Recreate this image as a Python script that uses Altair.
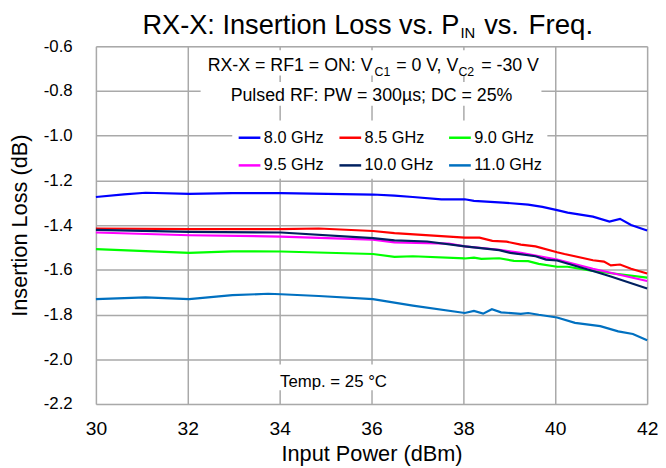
import altair as alt
import pandas as pd

FONT = "Liberation Sans"

series_names = ["8.0 GHz", "8.5 GHz", "9.0 GHz", "9.5 GHz", "10.0 GHz", "11.0 GHz"]
series_colors = ["#0000ff", "#ff0000", "#00ff00", "#ff00ff", "#002060", "#0070c0"]

x_ticks = [30, 32, 34, 36, 38, 40, 42]
y_ticks = [-2.2, -2.0, -1.8, -1.6, -1.4, -1.2, -1.0, -0.8, -0.6]

pin_80 = [30.0, 30.61, 31.08, 32.03, 32.97, 34.03, 36.03, 36.5, 36.9, 37.52, 38.03, 38.23,
          38.86, 39.41, 39.72, 40.04, 40.27, 40.82, 41.18, 41.41, 41.65, 42.0]
il_80 = [-1.274, -1.262, -1.255, -1.260, -1.257, -1.257, -1.263, -1.268, -1.274, -1.285, -1.284, -1.291,
         -1.299, -1.308, -1.318, -1.333, -1.344, -1.362, -1.384, -1.372, -1.399, -1.424]

pin_85 = [30.0, 32.03, 34.03, 34.85, 36.03, 36.5, 38.03, 38.35, 38.63, 38.94, 39.25, 39.57,
          40.04, 40.2, 40.82, 41.06, 41.21, 41.41, 41.65, 42.0]
il_85 = [-1.415, -1.418, -1.418, -1.415, -1.426, -1.436, -1.456, -1.456, -1.470, -1.474, -1.487, -1.495,
         -1.521, -1.529, -1.557, -1.563, -1.580, -1.576, -1.595, -1.616]

pin_90 = [30.0, 32.03, 32.97, 34.03, 36.03, 36.5, 36.9, 38.03, 38.23, 38.39, 38.78, 39.1,
          39.41, 39.64, 40.04, 40.27, 40.82, 42.0]
il_90 = [-1.507, -1.524, -1.517, -1.518, -1.529, -1.542, -1.539, -1.549, -1.545, -1.551, -1.548, -1.560,
         -1.561, -1.573, -1.586, -1.586, -1.605, -1.635]

pin_95 = [30.0, 32.03, 34.03, 36.03, 36.5, 37.68, 38.03, 38.78, 39.25, 40.04, 40.82, 42.0]
il_95 = [-1.433, -1.445, -1.451, -1.465, -1.477, -1.483, -1.495, -1.510, -1.524, -1.554, -1.595, -1.650]

pin_100 = [30.0, 32.03, 34.03, 36.03, 36.5, 37.21, 38.03, 38.78, 39.02, 39.57, 39.8, 40.04,
           40.82, 41.21, 42.0]
il_100 = [-1.421, -1.430, -1.433, -1.458, -1.468, -1.473, -1.495, -1.512, -1.524, -1.539, -1.554, -1.558,
          -1.605, -1.630, -1.683]

pin_110 = [30.0, 31.08, 32.03, 32.97, 33.75, 34.03, 34.85, 36.03, 36.9, 38.03, 38.23, 38.43,
           38.62, 38.82, 39.25, 39.41, 39.64, 40.04, 40.43, 40.98, 41.37, 41.69, 42.0]
il_110 = [-1.731, -1.723, -1.731, -1.713, -1.707, -1.709, -1.717, -1.731, -1.760, -1.793, -1.784, -1.796,
          -1.776, -1.790, -1.797, -1.793, -1.801, -1.813, -1.837, -1.852, -1.875, -1.887, -1.915]

pins = [pin_80, pin_85, pin_90, pin_95, pin_100, pin_110]
ils = [il_80, il_85, il_90, il_95, il_100, il_110]

rows = []
for name, xs, ys in zip(series_names, pins, ils):
    for xv, yv in zip(xs, ys):
        rows.append({"series": name, "pin": xv, "il": yv})
df = pd.DataFrame(rows)

lines = alt.Chart(df).mark_line(strokeWidth=2.2).encode(
    x=alt.X("pin:Q",
            scale=alt.Scale(domain=[30, 42], nice=False, zero=False),
            axis=alt.Axis(values=x_ticks, title="Input Power (dBm)", format="d",
                          labelFontSize=19.5, titleFontSize=22, labelPadding=16, titlePadding=6,
                          ticks=False, tickSize=0, domain=False, labelFlush=False,
                          gridColor="#a9a9a9", gridWidth=1.5,
                          labelFont=FONT, titleFont=FONT, titleFontWeight="normal",
                          labelColor="black", titleColor="black")),
    y=alt.Y("il:Q",
            scale=alt.Scale(domain=[-2.2, -0.6], nice=False, zero=False),
            axis=alt.Axis(values=y_ticks, title="Insertion Loss (dB)",
                          labelExpr="replace(format(datum.value, '.1f'), '\u2212', '-')",
                          labelFontSize=17, titleFontSize=22, labelPadding=24, titlePadding=12,
                          ticks=False, tickSize=0, domain=False, labelFlush=False,
                          gridColor="#a9a9a9", gridWidth=1.5,
                          labelFont=FONT, titleFont=FONT, titleFontWeight="normal",
                          labelColor="black", titleColor="black")),
    color=alt.Color("series:N",
                    scale=alt.Scale(domain=series_names, range=series_colors),
                    legend=alt.Legend(title=None, orient="none", legendX=138, legendY=75,
                                      direction="horizontal", columns=3,
                                      symbolType="stroke", symbolSize=484,
                                      symbolStrokeWidth=2.5, labelFontSize=16.5, labelFont=FONT,
                                      labelColor="black", labelOffset=2, columnPadding=10,
                                      rowPadding=7, padding=5, fillColor="white")),
)


def one():
    return alt.Chart(alt.Data(values=[{"k": 0}]))


def text(txt, x, y, size, align="left"):
    return one().mark_text(font=FONT, fontSize=size, align=align, baseline="alphabetic",
                           color="black").encode(
        x=alt.value(x), y=alt.value(y), text=alt.value(txt))


def box(x1, x2, y1, y2):
    return one().mark_rect(color="white").encode(
        x=alt.value(x1), x2=alt.value(x2), y=alt.value(y1), y2=alt.value(y2))


layers = [
    lines,
    box(108, 451, 4, 29.5),
    box(106, 451, 36, 60),
    box(175, 305, 322, 348),
    # title with subscript
    text("RX-X: Insertion Loss vs. P", 368, -12.3, 27.5, "right"),
    text("IN", 369, -8.5, 15),
    text("vs.", 393, -12.3, 27.5),
    text("Freq.", 438, -12.3, 28),
    # annotation line 1 with subscripts
    text("RX-X = RF1 = ON: V", 280, 25.3, 18, "right"),
    text("C1", 282, 29.5, 12.5),
    text("= 0 V, V", 304, 25.3, 18),
    text("C2", 367, 29.5, 12.5),
    text("= -30 V", 390, 25.3, 18),
    # annotation line 2
    text("Pulsed RF: PW = 300µs; DC = 25%", 279, 55.3, 18, "center"),
    # temperature
    text("Temp. = 25 °C", 240.5, 345, 17, "center"),
]

chart = alt.layer(*layers).properties(
    width=558, height=362,
    padding={"left": 89, "top": 36, "right": 11, "bottom": 62},
    autosize=alt.AutoSizeParams(type="none"),
).configure_view(stroke="black", strokeWidth=2).configure(font=FONT)

chart.save("out.html", embed_options={"renderer": "svg", "actions": False})
